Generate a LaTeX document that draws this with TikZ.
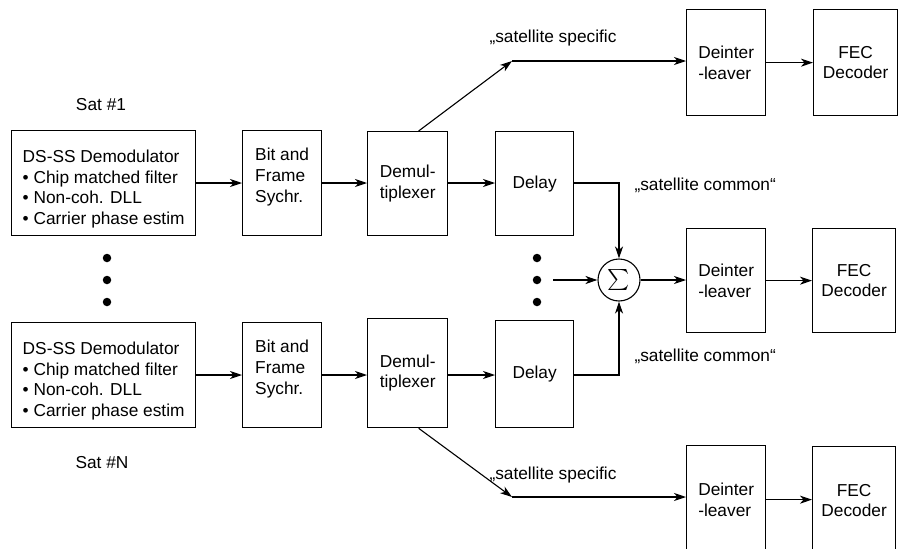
\documentclass[tikz,border=0pt]{standalone}
\usepackage{fontspec}
\setmainfont{Liberation Sans}
\usetikzlibrary{arrows.meta}

\begin{document}
\begin{tikzpicture}[x=1pt,y=-1pt,
  txt/.style={font=\fontsize{17.3}{20.7}\selectfont},
  blk/.style={draw, line width=1.3pt, inner sep=0pt, anchor=north west, txt},
  sig/.style={-{Stealth[length=12pt,width=8pt,inset=3.5pt]}, line width=1.1pt},
  dot/.style={circle, fill, inner sep=0pt, minimum size=8.5pt},
  demod/.style={blk, minimum width=184pt, minimum height=105pt, align=left},
  sync/.style={blk, minimum width=79pt, minimum height=105pt, align=left},
  unit/.style={blk, minimum width=80pt, minimum height=104pt, align=center}
]
\useasboundingbox (0,0) rectangle (903,549);
\clip (0,0) rectangle (903,549);

% receiver chain of satellite 1
\node[demod] (ds1) at (11,130) {\rule{0pt}{24pt}DS-SS Demodulator\\• Chip matched filter\\• Non-coh. DLL\\• Carrier phase estim};
\node[sync] (bit1) at (242,130) {\rule{0pt}{24pt}Bit and\\Frame\\Sychr.\\\strut};
\node[unit] (dmx1) at (367,131) {Demul-\\tiplexer};
\node[unit, minimum width=78pt] (dly1) at (495,131) {Delay};

% receiver chain of satellite N
\node[demod] (ds2) at (11,322) {\rule{0pt}{24pt}DS-SS Demodulator\\• Chip matched filter\\• Non-coh. DLL\\• Carrier phase estim};
\node[sync] (bit2) at (242,322) {\rule{0pt}{24pt}Bit and\\Frame\\Sychr.\\\strut};
\node[unit, minimum height=109pt] (dmx2) at (367,318) {Demul-\\tiplexer};
\node[unit, minimum width=78pt, minimum height=107pt] (dly2) at (495,320) {Delay};

% deinterleavers and decoders
\node[unit, minimum width=79pt, minimum height=106pt, align=left] (dil1) at (686,9) {Deinter\\-leaver};
\node[unit, minimum width=84pt, minimum height=106pt] (fec1) at (813,9) {FEC\\Decoder};
\node[unit, minimum width=79pt, align=left] (dil2) at (686,228) {Deinter\\-leaver};
\node[unit, minimum width=83pt] (fec2) at (812,228) {FEC\\Decoder};
\node[unit, minimum width=79pt, minimum height=108pt, align=left] (dil3) at (686,445) {Deinter\\-leaver};
\node[unit, minimum width=83pt, minimum height=108pt] (fec3) at (812,446) {FEC\\Decoder};

% combiner
\node[draw, circle, line width=1.1pt, minimum size=42pt, inner sep=0pt] (sum) at (619,280)
  {\scalebox{2.1}{$\sum$}};

% labels
\node[txt] (sat1) at (101,105) {Sat \#1};
\node[txt] (satn) at (102,463) {Sat \#N};
\node[txt, anchor=west] (lspec1) at (486,38) {„satellite specific};
\node[txt, anchor=west] (lspec2) at (486,475) {„satellite specific};
\node[txt, anchor=west] (lcom1) at (631,185) {„satellite common“};
\node[txt, anchor=west] (lcom2) at (631,356) {„satellite common“};

% ellipsis dots
\foreach \yy [count=\i] in {258,280,302} {
  \node[dot] (ldot\i) at (107,\yy) {};
  \node[dot] (mdot\i) at (537,\yy) {};
}

% bend points and free ends
\coordinate (ts) at (512,61);
\coordinate (bs) at (512,497);
\coordinate (mid) at (553,280);

% chain connectors
\draw[sig] (ds1.east |- 0,183) -- (bit1.west |- 0,183);
\draw[sig] (bit1.east |- 0,183) -- (dmx1.west |- 0,183);
\draw[sig] (dmx1.east |- 0,183) -- (dly1.west |- 0,183);
\draw[sig] (ds2.east |- 0,375) -- (bit2.west |- 0,375);
\draw[sig] (bit2.east |- 0,375) -- (dmx2.west |- 0,375);
\draw[sig] (dmx2.east |- 0,375) -- (dly2.west |- 0,375);

% satellite specific branches
\draw[sig] ([xshift=11pt]dmx1.north) -- (ts);
\draw[sig] (ts) -- (ts -| dil1.west);
\draw[sig] ([xshift=11pt]dmx2.south) -- (bs);
\draw[sig] (bs) -- (bs -| dil3.west);

% satellite common branches into the combiner
\draw[sig] (dly1.east |- 0,183) -| (sum.north);
\draw[sig] (dly2.east |- 0,375) -| (sum.south);
\draw[sig] (mid) -- (sum.west);
\draw[sig] (sum.east) -- (sum.east -| dil2.west);

% deinterleaver to decoder
\draw[sig] (dil1.east) -- (fec1.west |- dil1.east);
\draw[sig] (dil2.east) -- (fec2.west |- dil2.east);
\draw[sig] (dil3.east) -- (fec3.west |- dil3.east);
\end{tikzpicture}
\end{document}
